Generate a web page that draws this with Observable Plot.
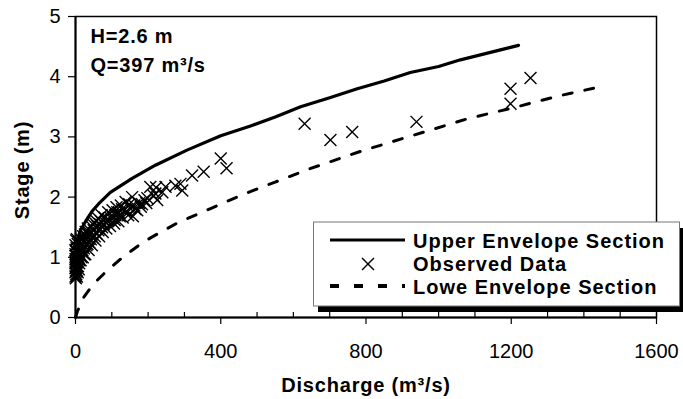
<!DOCTYPE html>
<html><head><meta charset="utf-8">
<script src="https://cdn.jsdelivr.net/npm/d3@7"></script>
<script src="https://cdn.jsdelivr.net/npm/@observablehq/plot@0.6"></script>
<style>
body{margin:0;background:#fff;}
#chart{position:relative;width:683px;height:399px;}
</style>
</head><body><div id="chart"></div>
<script>
// ---- data ----
const upperQ = [0,5,14,28,45,64,96,156,220,307,400,482,550,620,700,776,850,922,1000,1060,1140,1220];
const upperH = [1.15,1.3,1.45,1.6,1.76,1.89,2.08,2.31,2.53,2.78,3.02,3.18,3.33,3.5,3.65,3.8,3.93,4.07,4.17,4.28,4.4,4.52];
const lowerQ = [0,5,14,23,50,87,130,188,280,372,464,550,640,785,932,1079,1216,1330,1450];
const lowerH = [0,0.1,0.22,0.34,0.56,0.78,1.0,1.26,1.57,1.81,2.05,2.25,2.46,2.76,3.03,3.3,3.5,3.68,3.84];
const obsQ = [0,0,0,0,0,0,0,0,2,2,3,3,4,5,5,6,7,8,8,10,10,
  1,1,1,1,1,2,4,4,6,6,9,9,11,11,16,19,22,24,26,29,33,35,
  12,13,14,15,17,18,20,21,23,25,27,28,30,32,34,36,38,40,
  42,48,53,58,63,68,73,82,92,100,108,115,122,128,140,148,165,180,195,
  43,45,47,50,52,55,57,60,62,65,67,70,72,75,78,80,
  85,88,90,95,98,102,106,110,113,118,120,125,130,
  135,138,145,150,156,158,162,170,175,183,190,198,206,216,220,222,225,239,248,
  275,289,294,321,353,400,416,
  631,702,762,939,1198,1253,1198];
const obsH = [0.68,0.75,0.82,0.9,0.97,1.05,1.12,1.2,0.72,0.86,1.0,1.15,0.78,0.93,1.08,1.22,0.85,1.0,1.15,0.9,1.25,
  0.65,0.78,0.92,1.02,1.1,1.28,0.68,1.3,0.75,0.98,0.8,1.08,0.95,1.15,1.0,1.12,1.25,1.05,1.38,1.3,1.22,1.4,
  1.05,1.18,0.95,1.3,1.1,1.22,1.0,1.35,1.15,1.28,1.05,1.42,1.2,1.33,1.48,1.12,1.25,1.4,
  1.3,1.55,1.35,1.6,1.45,1.55,1.5,1.58,1.62,1.7,1.62,1.75,1.68,1.8,1.76,1.88,1.8,1.84,1.9,
  1.52,1.2,1.33,1.45,1.58,1.28,1.4,1.52,1.65,1.35,1.47,1.6,1.7,1.42,1.55,1.66,
  1.48,1.6,1.75,1.52,1.65,1.78,1.56,1.7,1.83,1.6,1.74,1.86,1.66,
  1.78,1.92,1.7,1.82,2.0,1.68,1.86,1.78,1.9,1.88,1.95,1.98,2.17,2.02,2.06,2.16,1.95,2.08,2.17,
  2.19,2.22,2.11,2.36,2.42,2.64,2.48,
  3.22,2.95,3.08,3.25,3.80,3.98,3.55];
const xTicks = [0,400,800,1200,1600];
const xMinorTicks = [100,200,300,500,600,700,900,1000,1100,1300,1400,1500];
const yTicks = [0,1,2,3,4,5];
const legendLabels = ["Upper Envelope Section","Observed Data","Lowe Envelope Section"];
const noteH = "H=2.6 m";
const noteQ = "Q=397 m³/s";
const xTitle = "Discharge (m³/s)";
const yTitle = "Stage (m)";

const upper = upperQ.map((q,i)=>({q, h: upperH[i]}));
const lower = lowerQ.map((q,i)=>({q, h: lowerH[i]}));
const obs = obsQ.map((q,i)=>({q, h: obsH[i]}));

const FONT = "'Liberation Sans', Arial, sans-serif";
const fmt = d3.format("d");

const plot = Plot.plot({
  width: 683, height: 399,
  marginLeft: 75, marginRight: 27, marginTop: 16, marginBottom: 82,
  style: {fontFamily: FONT, fontSize: "20px", color: "black", background: "white"},
  x: {domain: [0,1600]},
  y: {domain: [0,5]},
  marks: [
    Plot.frame({stroke: "black", strokeWidth: 1.5}),
    Plot.axisX({ticks: xTicks, tickSize: 7, tickPadding: 19, fontSize: 20, label: null, strokeWidth: 1.2, tickFormat: fmt}),
    Plot.axisX({ticks: xMinorTicks, tickSize: 5, dy: -5, text: null, label: null, strokeWidth: 1.2}),
    Plot.axisY({ticks: yTicks, tickSize: 7, tickPadding: 8, fontSize: 20, label: null, strokeWidth: 1.2, tickFormat: fmt}),
    Plot.ruleX([0], {strokeWidth: 2}),
    Plot.ruleY([0], {strokeWidth: 2}),
    Plot.line(lower, {x: "q", y: "h", stroke: "black", strokeWidth: 3, strokeDasharray: "9,13"}),
    Plot.line(upper, {x: "q", y: "h", stroke: "black", strokeWidth: 3.2}),
    Plot.dot(obs, {x: "q", y: "h", symbol: "times", r: 5.5, stroke: "black", strokeWidth: 1.4}),
    Plot.text([noteH], {frameAnchor: "top-left", dx: 15, dy: 12, fontSize: 20, fontWeight: "bold", textAnchor: "start", lineAnchor: "top"}),
    Plot.text([noteQ], {frameAnchor: "top-left", dx: 15, dy: 41, fontSize: 20, fontWeight: "bold", textAnchor: "start", lineAnchor: "top"}),
    Plot.text([xTitle], {frameAnchor: "bottom", dy: 60, fontSize: 20, fontWeight: "bold", lineAnchor: "top"}),
    Plot.text([yTitle], {frameAnchor: "left", dx: -53, dy: 3, rotate: -90, textAnchor: "middle", fontSize: 20, fontWeight: "bold"})
  ]
});
document.getElementById("chart").appendChild(plot);

const svg = d3.select(plot);
svg.selectAll("text").filter(function(){ const t = this.textContent; return t === xTitle || t === yTitle || t === noteH || t === noteQ; })
  .attr("letter-spacing", "0.8px");

// legend
const g = svg.append("g").attr("font-family", FONT).attr("text-anchor", "start");
g.append("rect").attr("x", 318).attr("y", 228).attr("width", 367).attr("height", 84).attr("fill", "black");
g.append("rect").attr("x", 313.5).attr("y", 222).attr("width", 366).attr("height", 84).attr("fill", "white").attr("stroke", "#777").attr("stroke-width", 1);
g.append("line").attr("x1", 330).attr("x2", 405).attr("y1", 240).attr("y2", 240).attr("stroke", "black").attr("stroke-width", 3);
g.append("path").attr("d", d3.symbol(d3.symbolTimes, 95)()).attr("transform", "translate(368,264)").attr("fill", "none").attr("stroke", "black").attr("stroke-width", 1.4);
g.append("line").attr("x1", 330).attr("x2", 405).attr("y1", 286).attr("y2", 286).attr("stroke", "black").attr("stroke-width", 4).attr("stroke-dasharray", "9,15");
const ys = [247.5, 270.5, 294];
legendLabels.forEach((t,i)=>{
  g.append("text").attr("x", 413).attr("y", ys[i]).attr("text-anchor", "start").attr("font-size", 20).attr("font-weight", "bold").attr("letter-spacing", "1px").attr("fill", "black").text(t);
});
</script>
</body></html>
